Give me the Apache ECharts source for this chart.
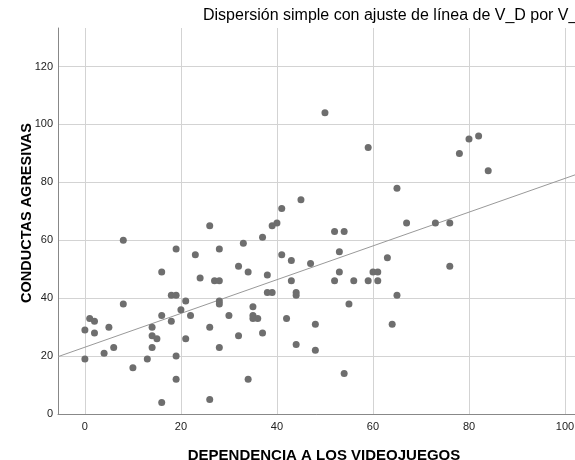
<!DOCTYPE html>
<html>
<head>
<meta charset="utf-8">
<script src="https://cdn.jsdelivr.net/npm/echarts@6/dist/echarts.min.js"></script>
<style>html,body{margin:0;padding:0;background:#fff}#c{width:575px;height:460px}</style>
</head>
<body>
<div id="c"></div>
<script>
// Data
var dependencia = [8,19,23,16,24,18,19,21,8,20,22,16,1,2,18,5,14,0,2,14,15,21,14,6,4,0,13,19,10,19,16,
  45,41,26,39,40,37,33,28,41,43,47,32,34,27,28,38,43,38,39,44,44,28,28,35,30,35,35,36,42,48,26,32,37,28,44,48,34,26,
  50,59,82,80,78,84,65,67,73,76,52,54,53,63,76,60,61,53,52,56,59,61,65,55,64,54];
var conductas = [60,57,55,49,47,41,41,39,38,36,34,34,33,32,32,30,30,29,28,27,26,26,23,23,21,19,19,20,16,12,4,
  74,71,65,65,66,61,59,57,55,53,52,51,49,46,46,48,46,42,42,42,41,39,38,37,34,34,33,33,33,31,30,27,28,23,24,22,12,5,
  104,92,96,95,90,84,78,66,66,66,63,63,56,54,51,49,49,49,46,46,46,46,41,38,31,14];
// Fitted line endpoints
var fitX = [-5.6, 105.2];
var fitY = [19.8, 84.4];
var xTicks = [0,20,40,60,80,100];
var yTicks = [0,20,40,60,80,100,120];

var pts = dependencia.map(function(x,i){return [x, conductas[i]];});
var fit = fitX.map(function(x,i){return [x, fitY[i]];});
var font = "'Liberation Sans', Arial, sans-serif";

var chart = echarts.init(document.getElementById('c'), null, {renderer:'canvas'});
chart.setOption({
  animation:false,
  backgroundColor:'#ffffff',
  title:{
    text:'Dispersión simple con ajuste de línea de V_D por V_',
    left:198, top:3,
    textStyle:{fontFamily:font, fontSize:16, fontWeight:'normal', color:'#000'}
  },
  grid:{left:58, width:532, top:28, height:386, containLabel:false, outerBoundsMode:'none'},
  xAxis:{
    type:'value', min:-5.6, max:105.2,
    name:'DEPENDENCIA A LOS VIDEOJUEGOS', nameLocation:'middle', nameGap:34,
    nameTextStyle:{fontFamily:font, fontSize:15, fontWeight:'bold', color:'#000'},
    axisLine:{show:true, onZero:false, lineStyle:{color:'#888', width:1}},
    axisTick:{show:false, customValues:xTicks},
    axisLabel:{customValues:xTicks, fontFamily:font, fontSize:11, color:'#222', margin:7},
    splitLine:{show:true, lineStyle:{color:'#d3d3d3', width:1}}
  },
  yAxis:{
    type:'value', min:0, max:133.3,
    name:'CONDUCTAS AGRESIVAS', nameLocation:'middle', nameGap:24, nameMoveOverlap:false,
    nameTextStyle:{fontFamily:font, fontSize:14.5, fontWeight:'bold', color:'#000', padding:[0,0,0,16]},
    axisLine:{show:true, onZero:false, lineStyle:{color:'#888', width:1}},
    axisTick:{show:false, customValues:yTicks},
    axisLabel:{customValues:yTicks, fontFamily:font, fontSize:11, color:'#222', margin:5},
    splitLine:{show:true, lineStyle:{color:'#d3d3d3', width:1}}
  },
  series:[
    {type:'line', data:fit, symbol:'none', lineStyle:{color:'#999', width:1}, z:3, silent:true},
    {type:'scatter', data:pts, symbol:'circle', symbolSize:7, itemStyle:{color:'#6e6e6e', opacity:1}, z:4}
  ]
});
</script>
</body>
</html>
